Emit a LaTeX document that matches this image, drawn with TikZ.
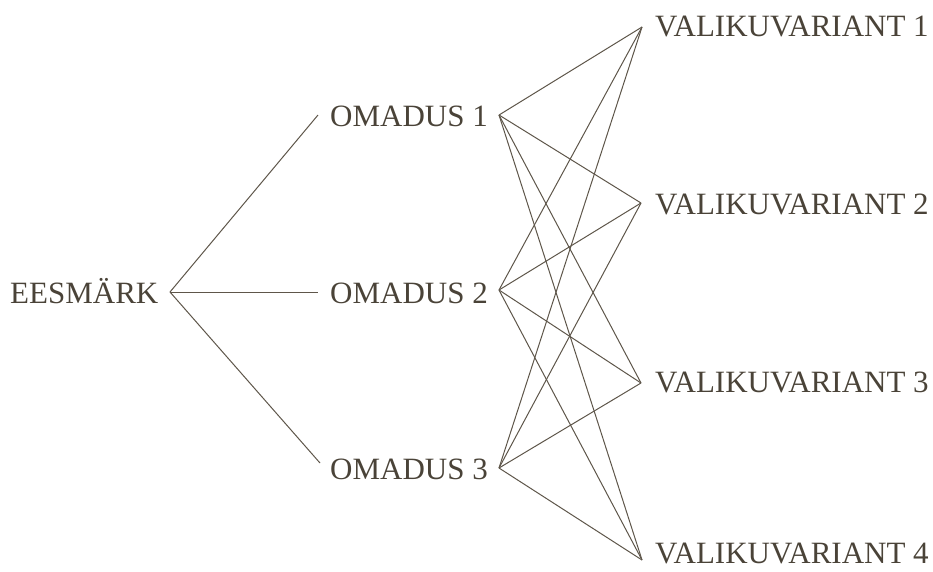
\documentclass[tikz,border=0pt]{standalone}
\usepackage{fontspec}
\setmainfont{Liberation Serif}
\definecolor{ink}{HTML}{4A4338}
\definecolor{wire}{HTML}{5E564A}
\begin{document}
\begin{tikzpicture}[x=1pt,y=-1pt,
  lbl/.style={anchor=base west,inner sep=0pt,text=ink,font=\fontsize{31}{36}\selectfont},
  wire/.style={draw=wire,line width=1pt}]
\useasboundingbox (0,0) rectangle (933,571);
% labels
\node[lbl] (e) at (10,303) {EESMÄRK};
\node[lbl] (o1) at (330,126) {OMADUS 1};
\node[lbl] (o2) at (330,303) {OMADUS 2};
\node[lbl] (o3) at (330,479) {OMADUS 3};
\node[lbl] (v1) at (655,36) {VALIKUVARIANT 1};
\node[lbl] (v2) at (655,214) {VALIKUVARIANT 2};
\node[lbl] (v3) at (655,392) {VALIKUVARIANT 3};
\node[lbl] (v4) at (655,563) {VALIKUVARIANT 4};
% connector ends
\coordinate (eR) at (170,292);
\coordinate (o1L) at (318,115);
\coordinate (o2L) at (318,292);
\coordinate (o3L) at (320,463);
\coordinate (o1R) at (499,115);
\coordinate (o2R) at (499,290);
\coordinate (o3R) at (499,468);
\coordinate (v1L) at (642,27);
\coordinate (v2L) at (641,203);
\coordinate (v3L) at (641,383);
\coordinate (v4L) at (642,560);
\foreach \o in {o1,o2,o3} \draw[wire] (eR) -- (\o L);
\foreach \o in {o1,o2,o3}
  \foreach \v in {v1,v2,v3,v4}
    \draw[wire] (\o R) -- (\v L);
\end{tikzpicture}
\end{document}
